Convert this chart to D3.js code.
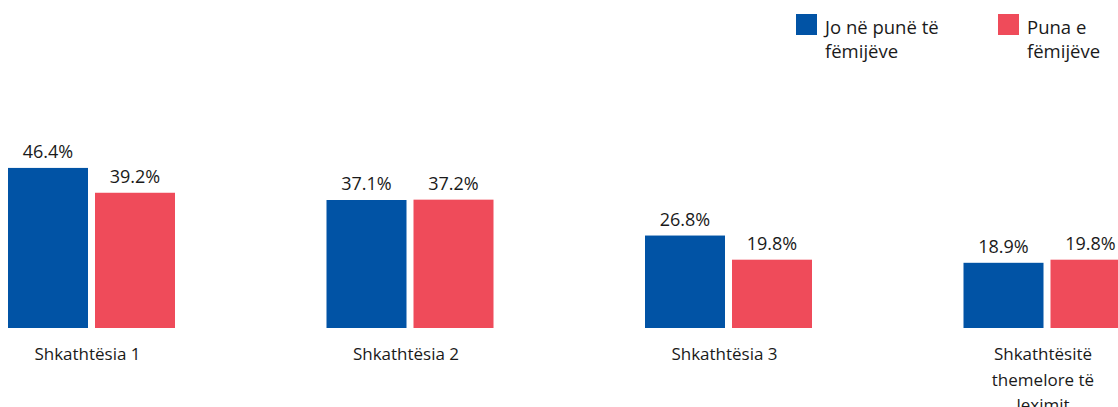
<!DOCTYPE html>
<html>
<head>
<meta charset="utf-8">
<script src="https://cdn.jsdelivr.net/npm/d3@7"></script>
<style>
  body { margin: 0; background: #fff; }
  text { font-family: "Open Sans", "Noto Sans", sans-serif; fill: #1a1a1a; }
</style>
</head>
<body>
<div id="chart"></div>
<script>
// categories and series
const categories = ["Shkathtësia 1", "Shkathtësia 2", "Shkathtësia 3", "Shkathtësitë themelore të leximit"];
const categoryLines = [["Shkathtësia 1"], ["Shkathtësia 2"], ["Shkathtësia 3"], ["Shkathtësitë", "themelore të", "leximit"]];
const seriesNames = ["Jo në punë të fëmijëve", "Puna e fëmijëve"];
const legendLines = [["Jo në punë të", "fëmijëve"], ["Puna e", "fëmijëve"]];
const notWorking = [46.4, 37.1, 26.8, 18.9];
const working = [39.2, 37.2, 19.8, 19.8];

const colors = ["#0153A5", "#EF4B5A"];
const width = 1118, height = 407;

let svg = d3.select("#chart")
  .append("svg")
  .attr("width", width)
  .attr("height", height);

// group scale: 4 groups, each 167px wide, step ~318.5
let x0 = d3.scaleBand()
  .domain(categories)
  .range([8, 8 + 3 * 318.5 + 167])
  .paddingInner((318.5 - 167) / 318.5)
  .paddingOuter(0);

let x1 = d3.scaleBand()
  .domain(seriesNames)
  .range([0, x0.bandwidth()])
  .paddingInner(2 - x0.bandwidth() / 87)
  .paddingOuter(0);

let baseline = 328;
let y = d3.scaleLinear()
  .domain([0, 100])
  .range([baseline, baseline - 345]);

let rows = categories.map((c, i) => ({cat: c, values: [notWorking[i], working[i]]}));

let groups = svg.selectAll(".group")
  .data(rows)
  .enter()
  .append("g")
  .attr("class", "group")
  .attr("transform", d => `translate(${x0(d.cat)},0)`);

groups.selectAll("rect")
  .data(d => d.values.map((v, j) => ({name: seriesNames[j], v: v, j: j})))
  .enter()
  .append("rect")
  .attr("x", d => x1(d.name))
  .attr("y", d => y(d.v))
  .attr("width", x1.bandwidth())
  .attr("height", d => baseline - y(d.v))
  .attr("fill", d => colors[d.j]);

groups.selectAll(".val")
  .data(d => d.values.map((v, j) => ({name: seriesNames[j], v: v})))
  .enter()
  .append("text")
  .attr("class", "val")
  .attr("x", d => x1(d.name) + x1.bandwidth() / 2)
  .attr("y", d => y(d.v) - 10)
  .attr("text-anchor", "middle")
  .style("font-size", "18px")
  .text(d => d.v.toFixed(1) + "%");

// category labels (wrapped)
groups.append("text")
  .attr("text-anchor", "middle")
  .style("font-size", "17px")
  .selectAll("tspan")
  .data((d, i) => categoryLines[i])
  .enter()
  .append("tspan")
  .attr("x", x0.bandwidth() / 2 - 4)
  .attr("y", (d, i) => 360 + i * 25.5)
  .text(d => d);

// legend
let legendX = [796, 998];
let legend = svg.selectAll(".legend")
  .data(seriesNames)
  .enter()
  .append("g")
  .attr("class", "legend")
  .attr("transform", (d, i) => `translate(${legendX[i]},14)`);

legend.append("rect")
  .attr("width", 21)
  .attr("height", 21)
  .attr("fill", (d, i) => colors[i]);

legend.append("text")
  .style("font-size", "18.5px")
  .selectAll("tspan")
  .data((d, i) => legendLines[i])
  .enter()
  .append("tspan")
  .attr("x", 29)
  .attr("y", (d, i) => 20 + i * 24)
  .text(d => d);
</script>
</body>
</html>
